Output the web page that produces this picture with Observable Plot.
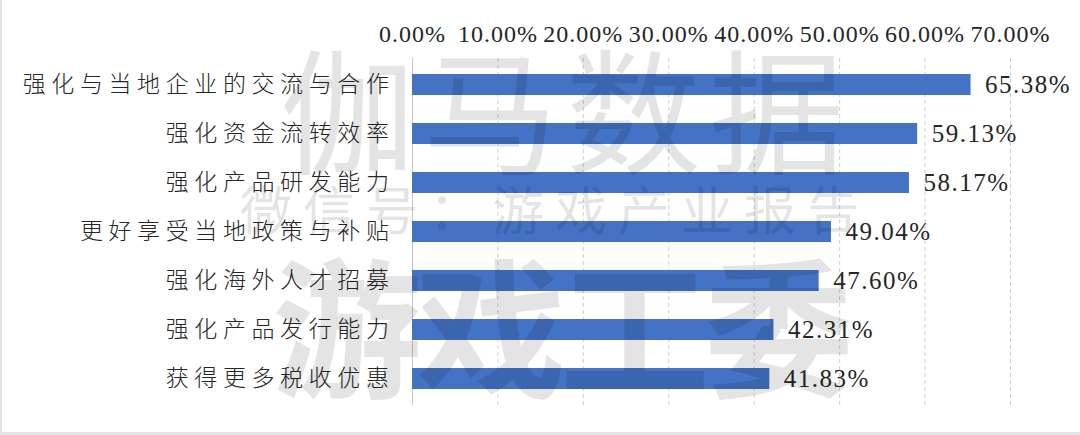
<!DOCTYPE html>
<html>
<head>
<meta charset="utf-8">
<script src="https://cdn.jsdelivr.net/npm/d3@7"></script>
<script src="https://cdn.jsdelivr.net/npm/@observablehq/plot@0.6"></script>
<style>
  html, body { margin: 0; padding: 0; background: #fff; }
  #wrap { position: relative; width: 1080px; height: 435px; overflow: hidden; }
  #wrap::after { content: ""; position: absolute; left: 0; top: 0; width: 1080px; height: 435px; box-sizing: border-box; border-left: 2px solid #e4e4e4; border-bottom: 3px solid #e4e4e4; pointer-events: none; }
  .yaxis text { letter-spacing: 5.6px; font-weight: 300; }
  .xaxis text { letter-spacing: 1px; }
  .vals text { letter-spacing: 1.5px; }
  .wm { position: absolute; white-space: nowrap; color: rgba(0,0,0,0.105); font-family: "Liberation Sans", "Noto Sans CJK SC", sans-serif; pointer-events: none; line-height: 0.8; }
</style>
</head>
<body>
<div id="wrap"></div>
<script>
const categories = [
  "强化与当地企业的交流与合作",
  "强化资金流转效率",
  "强化产品研发能力",
  "更好享受当地政策与补贴",
  "强化海外人才招募",
  "强化产品发行能力",
  "获得更多税收优惠"
];
const values = [65.38, 59.13, 58.17, 49.04, 47.60, 42.31, 41.83];
const tickValues = [0, 10, 20, 30, 40, 50, 60, 70];
const watermarkTitle = "伽马数据";
const watermarkSub = "微信号：游戏产业报告";
const watermarkBottom = "游戏工委";

const data = categories.map((c, i) => ({category: c, value: values[i]}));
const numFont = "'Liberation Serif', 'Times New Roman', serif";
const cjkFont = "'Noto Sans CJK SC', sans-serif";

const chart = Plot.plot({
  width: 1080,
  height: 435,
  marginLeft: 412,
  marginRight: 70,
  marginTop: 58,
  marginBottom: 30,
  style: {background: "white", color: "#333"},
  x: {domain: [0, 70]},
  y: {domain: categories, paddingInner: 0.57, paddingOuter: 0.285},
  marks: [
    Plot.gridX(tickValues, {stroke: "#cfcfcf", strokeOpacity: 1, strokeDasharray: "4,3"}),
    Plot.ruleX([0], {stroke: "#c8c8c8", strokeWidth: 1}),
    Plot.barX(data, {x: "value", y: "category", fill: "#4472C4"}),
    Plot.text(data, {
      x: "value", y: "category",
      text: d => d.value.toFixed(2) + "%",
      dx: 14, textAnchor: "start",
      fontSize: 25, fontFamily: numFont, fill: "#262626", className: "vals"
    }),
    Plot.axisX({
      anchor: "top", ticks: tickValues, tickSize: 0, tickPadding: 17,
      tickFormat: d => d.toFixed(2) + "%",
      fontSize: 24, fontFamily: numFont, fill: "#262626", label: null, className: "xaxis"
    }),
    Plot.axisY({
      tickSize: 0, tickPadding: 18, fontSize: 23, fontFamily: cjkFont,
      fill: "#262626", label: null, className: "yaxis"
    })
  ]
});

const wrap = document.getElementById("wrap");
wrap.appendChild(chart);

function addWM(text, left, top, size, weight, spacing) {
  const d = document.createElement("div");
  d.className = "wm";
  d.textContent = text;
  d.style.left = left + "px";
  d.style.top = top + "px";
  d.style.fontSize = size + "px";
  d.style.fontWeight = weight;
  d.style.letterSpacing = spacing + "px";
  wrap.appendChild(d);
}
addWM(watermarkTitle, 280, 64, 135, 400, 8);
addWM(watermarkSub, 240, 192, 52, 400, 11);
addWM(watermarkBottom, 272, 274, 150, 700, -6);
</script>
</body>
</html>
